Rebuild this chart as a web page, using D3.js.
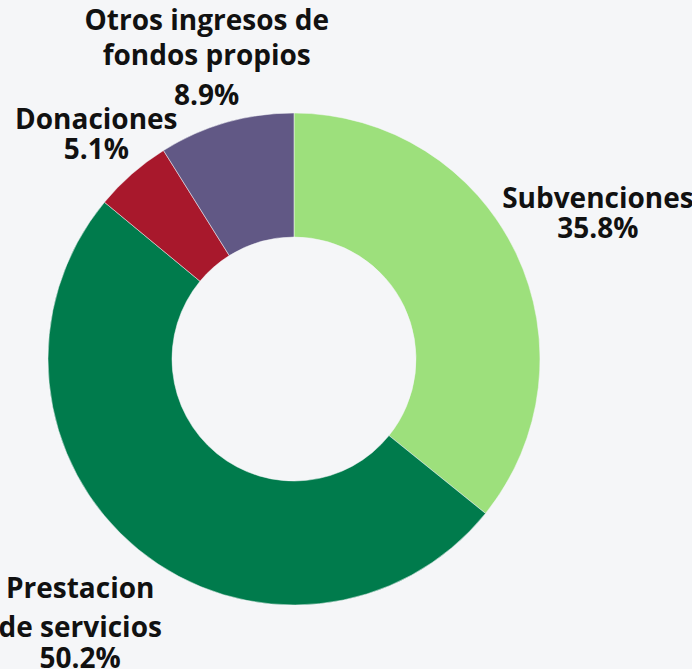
<!DOCTYPE html>
<html>
<head>
<meta charset="utf-8">
<script src="https://cdn.jsdelivr.net/npm/d3@7"></script>
<style>
  html, body { margin: 0; padding: 0; background: #f5f6f8; }
  svg { display: block; }
  text { font-family: "Open Sans", sans-serif; font-weight: 700; fill: #111; }
</style>
</head>
<body>
<svg id="chart" width="692" height="669"></svg>
<script>
// ---- data ----
const categories = ["Subvenciones", "Prestacion de servicios", "Donaciones", "Otros ingresos de fondos propios"];
const values = [35.8, 50.2, 5.1, 8.9];
const labelLines = [
  ["Subvenciones"],
  ["Prestacion", "de servicios"],
  ["Donaciones"],
  ["Otros ingresos de", "fondos propios"]
];
const colors = ["#9de07c", "#007b4c", "#a8182c", "#615885"];

// ---- layout ----
const W = 692, H = 669;
const cx = 294, cy = 359, outerR = 246, innerR = 122, labelR = 338;
// label nudges for crowded labels (pixels): [dx, dy] of the label block center
const nudge = [[-1, 0], [0, 0], [25, 31], [6, 26]];
// baseline offsets of the lines (relative to the block anchor)
const lineOffsets = [
  [-5, 25],
  [-23, 16, 47],
  [-7, 23],
  [-30, 5, 45]
];

const svg = d3.select("#chart");
const g = svg.append("g").attr("transform", `translate(${cx},${cy})`);

const data = categories.map((c, i) => ({ name: c, value: values[i], lines: labelLines[i], color: colors[i], i }));

const pie = d3.pie().value(d => d.value).sort(null);
const arc = d3.arc().innerRadius(innerR).outerRadius(outerR);
const labelArc = d3.arc().innerRadius(labelR).outerRadius(labelR);

const arcs = pie(data);

g.selectAll("path.slice")
  .data(arcs)
  .enter().append("path")
  .attr("class", "slice")
  .attr("d", arc)
  .attr("fill", d => d.data.color)
  .attr("stroke", "#f5f6f8")
  .attr("stroke-width", 0.5);

const fmt = d3.format(".1f");

const labels = g.selectAll("text.lbl")
  .data(arcs)
  .enter().append("text")
  .attr("class", "lbl")
  .attr("text-anchor", "middle")
  .style("font-size", "28px");

labels.each(function(d) {
  const [x, y] = labelArc.centroid(d);
  const i = d.data.i;
  const ax = x + nudge[i][0], ay = y + nudge[i][1];
  const lines = d.data.lines.concat([fmt(d.data.value) + "%"]);
  const t = d3.select(this);
  lines.forEach((ln, k) => {
    t.append("tspan")
      .attr("x", ax)
      .attr("y", ay + lineOffsets[i][k])
      .text(ln);
  });
});
</script>
</body>
</html>
